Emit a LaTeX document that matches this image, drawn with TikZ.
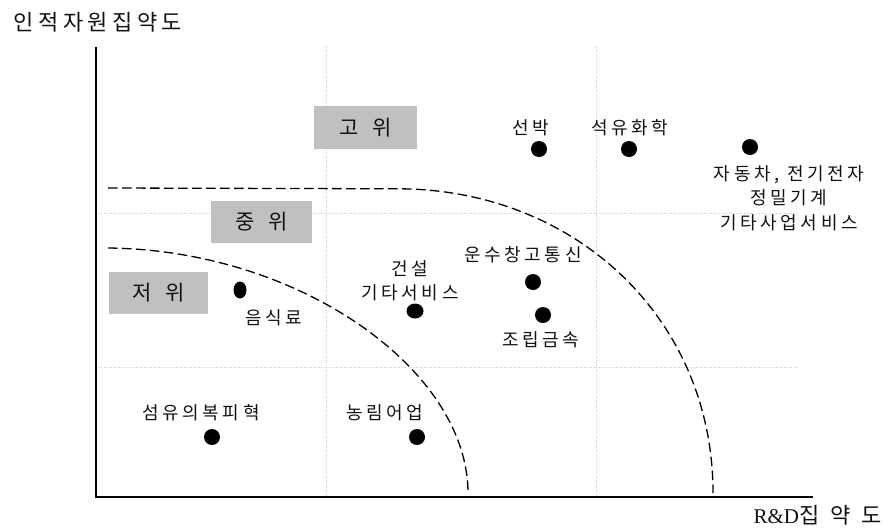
\documentclass[tikz,border=0pt]{standalone}
\usepackage{fontspec}
\usetikzlibrary{shapes.geometric}
\setmainfont{Liberation Serif}
\newfontfamily\krlab[LetterSpace=20]{Noto Sans CJK KR}
\newfontfamily\krtitle[LetterSpace=20]{Noto Sans CJK KR}
\newfontfamily\krplain{Noto Sans CJK KR}
\definecolor{boxgray}{HTML}{C0C0C0}
\definecolor{txt}{HTML}{111111}
\tikzset{
  axisline/.style={line width=1.6pt, draw=black},
  gridline/.style={draw=gray!40, line width=0.8pt, dash pattern=on 1pt off 1.5pt},
  boundary/.style={line width=1.3pt, dash pattern=on 9.5pt off 4.5pt},
  dot/.style={ellipse, fill=black, inner sep=0pt, minimum width=16pt, minimum height=16pt},
  lab/.style={font=\krlab\fontsize{18}{24.5}\selectfont, text=txt, inner sep=0pt, align=center},
  levelbox/.style={fill=boxgray, inner sep=0pt, text=txt, font=\krplain\fontsize{21}{24}\selectfont}
}
\begin{document}
\begin{tikzpicture}[x=1pt,y=-1pt]
\useasboundingbox (0,0) rectangle (884,528);
% grid
\coordinate (gTa) at (326,47);  \coordinate (gBa) at (326,497);
\coordinate (gTb) at (596,47);  \coordinate (gBb) at (596,497);
\coordinate (hLa) at (96,213);  \coordinate (hRa) at (798,213);
\coordinate (hLb) at (96,367);  \coordinate (hRb) at (798,367);
\draw[gridline] (gTa) -- (gBa);
\draw[gridline] (gTb) -- (gBb);
\draw[gridline] (hLa) -- (hRa);
\draw[gridline] (hLb) -- (hRb);
% axes
\coordinate (O) at (96,497);
\coordinate (Ytop) at (96,47);
\coordinate (Xend) at (813,497);
\draw[axisline] (Ytop) -- (O) -- (Xend);
% boundaries
\draw[boundary] (108,188) -- (400,188.8) .. controls (575,190) and (713,318) .. (713,493);
\draw[boundary] (108,248) .. controls (300,250) and (468,370) .. (468,493);
% level boxes
\node[levelbox, minimum width=103pt, minimum height=43pt] (high) at (365.5,127.5) {고\hspace{14pt}위};
\node[levelbox, minimum width=101pt, minimum height=42pt] (mid) at (261.5,222) {중\hspace{14pt}위};
\node[levelbox, minimum width=99pt, minimum height=42pt] (low) at (158.5,293) {저\hspace{14pt}위};
% dots
\node[dot, minimum width=13pt, minimum height=17pt] (food) at (240,290) {};
\node[dot, minimum width=17pt, minimum height=15pt] (cons) at (415,311) {};
\node[dot] (ship) at (539,149) {};
\node[dot] (petro) at (629,149) {};
\node[dot] (auto) at (750,147) {};
\node[dot] (trans) at (533,282) {};
\node[dot] (metal) at (543,315) {};
\node[dot] (text) at (212,437) {};
\node[dot] (agri) at (417,437) {};
% labels
\node[lab] (lship) at (531,128) {선박};
\node[lab] (lpetro) at (630,128) {석유화학};
\node[lab] (lauto) at (789,198) {자동차, 전기전자\\정밀기계\\기타사업서비스};
\node[lab] (ltrans) at (523,254.5) {운수창고통신};
\node[lab] (lmetal) at (541,340) {조립금속};
\node[lab] (lcons) at (410,281) {건설\\기타서비스};
\node[lab] (lfood) at (274,317.5) {음식료};
\node[lab] (ltext) at (201,412.5) {섬유의복피혁};
\node[lab] (lagri) at (385,412.5) {농림어업};
% axis titles
\node[font=\krtitle\fontsize{22}{24}\selectfont, text=txt, inner sep=0pt] (ytitle) at (98,22.5) {인적자원집약도};
\node[anchor=east, inner sep=0pt, text=txt] (xtitle) at (882,515.5) {\fontsize{21}{24}\selectfont R\&D{\krplain\fontsize{22}{24}\selectfont 집\hspace{11pt}약\hspace{11pt}도}};
\end{tikzpicture}
\end{document}
